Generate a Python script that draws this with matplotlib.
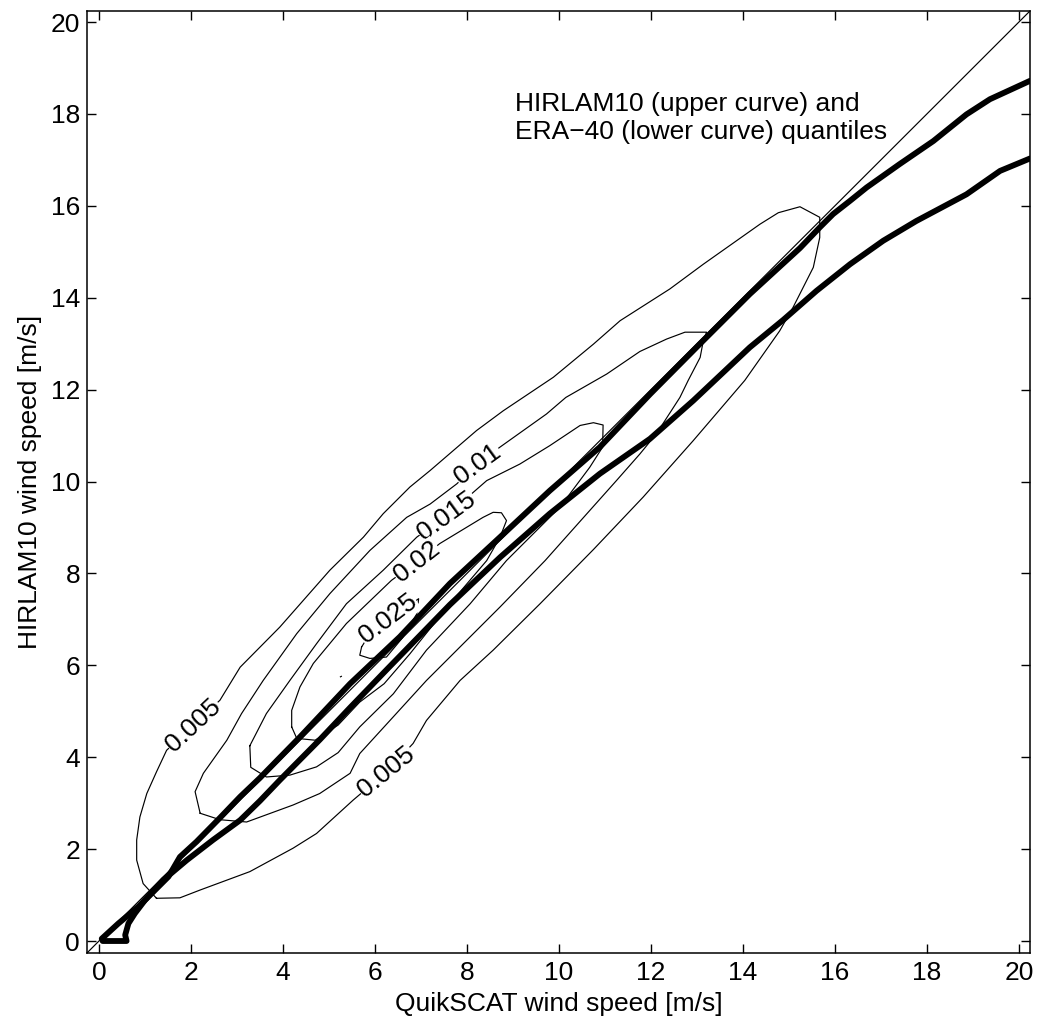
import matplotlib
matplotlib.use("Agg")
import matplotlib.pyplot as plt

plt.rcParams['font.family'] = ['Liberation Sans', 'DejaVu Sans']

# ---------------- data ----------------
tick_values = [0, 2, 4, 6, 8, 10, 12, 14, 16, 18, 20]

# HIRLAM10 quantiles (upper curve)
hirlam_q_x = [0.06, 0.42, 0.86, 1.15, 1.51, 1.76, 2.12, 2.63, 3.07, 3.50, 4.37, 5.46,
              6.54, 7.63, 8.72, 9.80, 10.89, 11.98, 13.07, 14.15, 15.24, 15.67, 15.96,
              16.33, 16.69, 17.41, 18.14, 18.86, 19.37, 20.24]
hirlam_q_y = [0.05, 0.38, 0.75, 1.04, 1.40, 1.83, 2.16, 2.68, 3.14, 3.55, 4.44, 5.60,
              6.62, 7.78, 8.79, 9.80, 10.75, 11.90, 13.00, 14.08, 15.08, 15.53, 15.82,
              16.11, 16.40, 16.91, 17.41, 17.99, 18.32, 18.72]

# ERA-40 quantiles (lower curve)
era_q_x = [0.08, 0.60, 0.57, 0.64, 0.78, 1.00, 1.40, 1.91, 2.48, 3.07, 3.50, 3.93, 4.80,
           5.46, 6.25, 7.63, 8.72, 9.80, 10.89, 11.98, 12.92, 14.15, 14.88, 15.60, 16.33,
           17.05, 17.77, 18.86, 19.59, 20.24]
era_q_y = [0.00, 0.00, 0.13, 0.38, 0.60, 0.89, 1.33, 1.76, 2.20, 2.63, 3.05, 3.50, 4.38,
           5.08, 5.90, 7.32, 8.35, 9.30, 10.17, 10.93, 11.76, 12.92, 13.52, 14.15, 14.73,
           15.24, 15.67, 16.25, 16.76, 17.03]

# joint density contour lines
c005_x = [1.25, 1.76, 2.20, 3.28, 4.22, 4.73, 5.53, 6.25, 6.83, 7.12, 7.85, 8.57, 9.59,
          10.75, 11.83, 12.92, 14.04, 14.80, 15.09, 15.53, 15.67, 15.67, 15.24, 14.77,
          14.37, 13.14, 12.41, 11.33, 10.75, 9.88, 8.79, 8.21, 7.20, 6.76, 6.18, 5.75,
          5.02, 3.93, 3.07, 2.63, 2.05, 1.47, 1.25, 1.04, 0.89, 0.82, 0.82, 0.96, 1.25]
c005_y = [0.93, 0.94, 1.11, 1.51, 2.02, 2.34, 3.07, 3.68, 4.30, 4.80, 5.67, 6.33, 7.34,
          8.52, 9.66, 10.89, 12.20, 13.28, 13.79, 14.66, 15.31, 15.75, 15.98, 15.85,
          15.60, 14.73, 14.19, 13.50, 12.99, 12.27, 11.54, 11.11, 10.24, 9.88, 9.30, 8.79,
          8.07, 6.83, 5.96, 5.24, 4.70, 4.15, 3.68, 3.21, 2.70, 2.20, 1.76, 1.25, 0.93]

c010_x = [2.20, 2.63, 3.21, 4.22, 4.80, 5.46, 5.67, 6.40, 7.12, 7.85, 8.72, 9.70, 10.02,
          11.25, 11.76, 12.12, 12.63, 12.81, 13.07, 13.14, 13.21, 12.74, 12.34, 11.76,
          11.04, 10.15, 9.73, 8.72, 8.23, 7.78, 7.20, 6.69, 5.89, 5.02, 4.30, 3.57, 3.10,
          2.78, 2.27, 2.09, 2.20]
c010_y = [2.78, 2.64, 2.59, 2.96, 3.21, 3.65, 4.08, 4.88, 5.67, 6.40, 7.27, 8.28, 8.64,
          10.02, 10.60, 11.04, 11.83, 12.20, 12.70, 13.07, 13.25, 13.25, 13.10, 12.83,
          12.34, 11.83, 11.47, 10.75, 10.38, 9.95, 9.51, 9.22, 8.50, 7.56, 6.69, 5.67,
          4.95, 4.37, 3.65, 3.25, 2.78]

c015_x = [3.28, 3.30, 3.64, 4.15, 4.73, 5.20, 5.67, 6.40, 7.12, 8.07, 8.86, 10.02, 10.67,
          10.95, 10.96, 10.75, 10.46, 9.80, 9.15, 8.43, 7.56, 6.91, 6.18, 5.38, 4.73,
          4.15, 3.64, 3.28]
c015_y = [4.25, 3.78, 3.57, 3.61, 3.79, 4.10, 4.66, 5.38, 6.33, 7.34, 8.28, 9.44, 10.31,
          10.75, 11.23, 11.28, 11.22, 10.78, 10.38, 10.02, 9.26, 8.79, 8.07, 7.34, 6.47,
          5.67, 4.95, 4.25]

c020_x = [4.19, 4.30, 4.70, 5.20, 5.67, 6.20, 6.76, 7.63, 8.43, 8.72, 8.86, 8.75, 8.57,
          8.35, 7.41, 6.91, 6.36, 5.38, 4.66, 4.37, 4.19, 4.19]
c020_y = [4.66, 4.41, 4.37, 4.70, 5.20, 5.60, 6.25, 7.34, 8.28, 8.79, 9.15, 9.32, 9.33,
          9.22, 8.65, 8.25, 7.85, 6.91, 6.04, 5.53, 5.02, 4.66]

c025_x = [5.71, 5.67, 5.89, 6.25, 6.60, 6.91, 6.95, 6.60, 6.29, 5.90, 5.71]
c025_y = [6.40, 6.22, 6.15, 6.18, 6.60, 7.12, 7.45, 7.20, 7.01, 6.70, 6.40]

c030_x = [5.25, 5.27]
c030_y = [5.75, 5.76]

contour_levels = ['0.005', '0.005', '0.01', '0.015', '0.02', '0.025']
label_x = [2.05, 6.25, 8.23, 7.56, 6.91, 6.29]
label_y = [4.70, 3.68, 10.38, 9.26, 8.25, 7.01]
label_angle = [43, 39, 36, 36, 38, 37]

FS = 19

# ---------------- figure ----------------
fig = plt.figure(figsize=(10.37, 10.28), dpi=100)
ax = fig.add_axes([0.0839, 0.0730, 0.9093, 0.9163])

lw_c = 0.85
for cx, cy in [(c005_x, c005_y), (c010_x, c010_y), (c015_x, c015_y),
               (c020_x, c020_y), (c025_x, c025_y), (c030_x, c030_y)]:
    ax.plot(cx, cy, color='black', lw=lw_c, zorder=2)

for txt, lx, ly, ang in zip(contour_levels, label_x, label_y, label_angle):
    ax.text(lx, ly, txt, rotation=ang, rotation_mode='anchor', ha='center', va='center',
            fontsize=FS, zorder=3,
            bbox=dict(facecolor='white', edgecolor='none', pad=0.3))

ax.axline((0, 0), slope=1, color='black', lw=0.85, zorder=2)

ax.plot(hirlam_q_x, hirlam_q_y, color='black', lw=4.2, solid_capstyle='round',
        solid_joinstyle='round', zorder=4)
ax.plot(era_q_x, era_q_y, color='black', lw=4.2, solid_capstyle='round',
        solid_joinstyle='round', zorder=4)

ax.text(9.04, 17.46, 'HIRLAM10 (upper curve) and\nERA\u221240 (lower curve) quantiles',
        fontsize=FS, ha='left', va='baseline', linespacing=1.2)

ax.set_xlim(-0.26, 20.24)
ax.set_ylim(-0.26, 20.24)
ax.set_xticks(tick_values)
ax.set_yticks(tick_values)
ax.set_xticklabels([str(t) for t in tick_values])
ax.set_yticklabels([str(t) for t in tick_values])
ax.tick_params(direction='in', length=6.5, width=1.0, labelsize=FS,
               top=True, right=True)
ax.tick_params(axis='x', pad=6)
ax.tick_params(axis='y', pad=5)
for s in ax.spines.values():
    s.set_linewidth(1.1)

ax.set_xlabel('QuikSCAT wind speed [m/s]', fontsize=FS, labelpad=5)
ax.set_ylabel('HIRLAM10 wind speed [m/s]', fontsize=FS, labelpad=6)

fig.savefig('out.png', dpi=100, facecolor='white')
